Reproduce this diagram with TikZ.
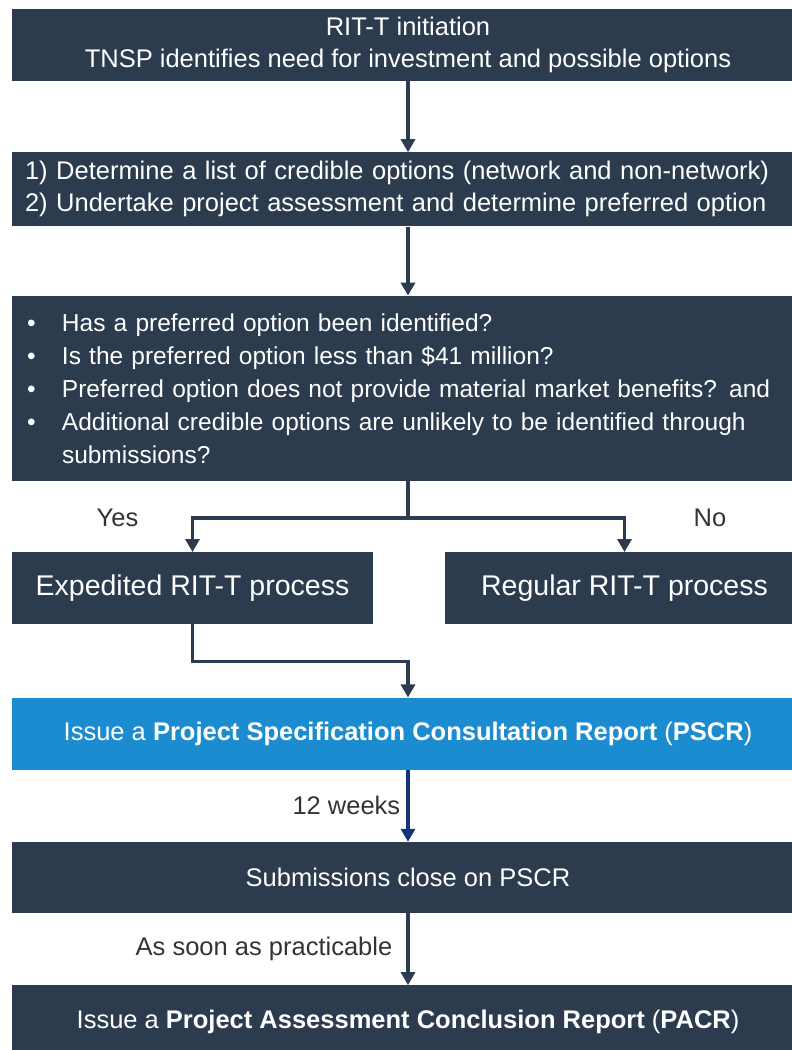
\documentclass[tikz,border=0pt]{standalone}
\usepackage{fontspec}
\setmainfont{Liberation Sans}
\usetikzlibrary{positioning, arrows.meta}

\definecolor{navy}{HTML}{2C3B4D}
\definecolor{skyblue}{HTML}{1C8CD0}
\definecolor{deepblue}{HTML}{15357A}
\definecolor{labelgrey}{HTML}{333333}

\newcommand{\bul}{\makebox[38pt][l]{\hspace{3pt}\textbullet}}

\begin{document}
\begin{tikzpicture}[x=1pt, y=1pt,
        >={Triangle[width=14pt, length=13pt]}, % arrow head style
        node distance=71pt % gap between boxes
    ]

    \tikzstyle{box}=[fill=navy, text=white, inner sep=0pt,
        minimum width=792pt, minimum height=72pt, align=center,
        font=\fontsize{25.5}{32}\selectfont]
    \tikzstyle{lbl}=[text=labelgrey, inner sep=0pt,
        font=\fontsize{25.5}{32}\selectfont]
    \tikzstyle{link}=[->, draw=navy, line width=3.5pt]

    \useasboundingbox (0,0) rectangle (792,-1050);
    \clip (0,0) rectangle (792,-1050);

    \node[box] (init) at (408,-45) {RIT-T initiation\\
        TNSP identifies need for investment and possible options};
    \node[box, text width=766pt, inner xsep=13pt, align=left,
        minimum height=74pt] (options) [below=of init]
        {1) Determine a list of credible options (network and non-network)\\
        2) Undertake project assessment and determine preferred option};
    \node[box, text width=768pt, inner xsep=12pt, align=left,
        minimum height=185pt, font=\fontsize{24.5}{33}\selectfont]
        (test) [below=69pt of options]
        {\bul Has a preferred option been identified?\\
        \bul Is the preferred option less than \$41 million?\\
        \bul Preferred option does not provide material market benefits? and\\
        \bul Additional credible options are unlikely to be identified through\\
        \hspace*{38pt}submissions?};

    \node[box, minimum width=361pt, anchor=north west,
        font=\fontsize{28.5}{34}\selectfont] (expedited)
        at ([yshift=-71pt]test.south west) {Expedited RIT-T process};
    \node[box, minimum width=359pt, anchor=north east,
        font=\fontsize{28.5}{34}\selectfont] (regular)
        at ([yshift=-71pt]test.south east) {Regular RIT-T process};

    \coordinate (split) at ([yshift=-37pt]test.south);
    \coordinate (join) at ([yshift=-37pt]expedited.south);
    \coordinate (mid) at (test.south |- expedited.south);

    \node[box, fill=skyblue] (pscr) [below=73pt of mid]
        {Issue a \textbf{Project Specification Consultation Report} (\textbf{PSCR})};
    \node[box, minimum height=71pt] (closing) [below=72pt of pscr]
        {Submissions close on PSCR};
    \node[box] (pacr) [below=72pt of closing]
        {Issue a \textbf{Project Assessment Conclusion Report} (\textbf{PACR})};

    \draw[link] (init) -- (options);
    \draw[link] (options) -- (test);
    \draw[link, -] (test) -- (split);
    \draw[link] (split) -| (expedited);
    \draw[link] (split) -| (regular);
    \node[lbl] (yes) at ([xshift=-75pt]split -| expedited) {Yes};
    \node[lbl] (no) at ([xshift=85.5pt]split -| regular) {No};

    \draw[link] (expedited) -- (join) -| (pscr);
    \draw[link, draw=deepblue] (pscr) -- node[lbl, left=6pt] {12 weeks} (closing);
    \draw[link] (closing) -- node[lbl, left=14pt] {As soon as practicable} (pacr);
\end{tikzpicture}
\end{document}
